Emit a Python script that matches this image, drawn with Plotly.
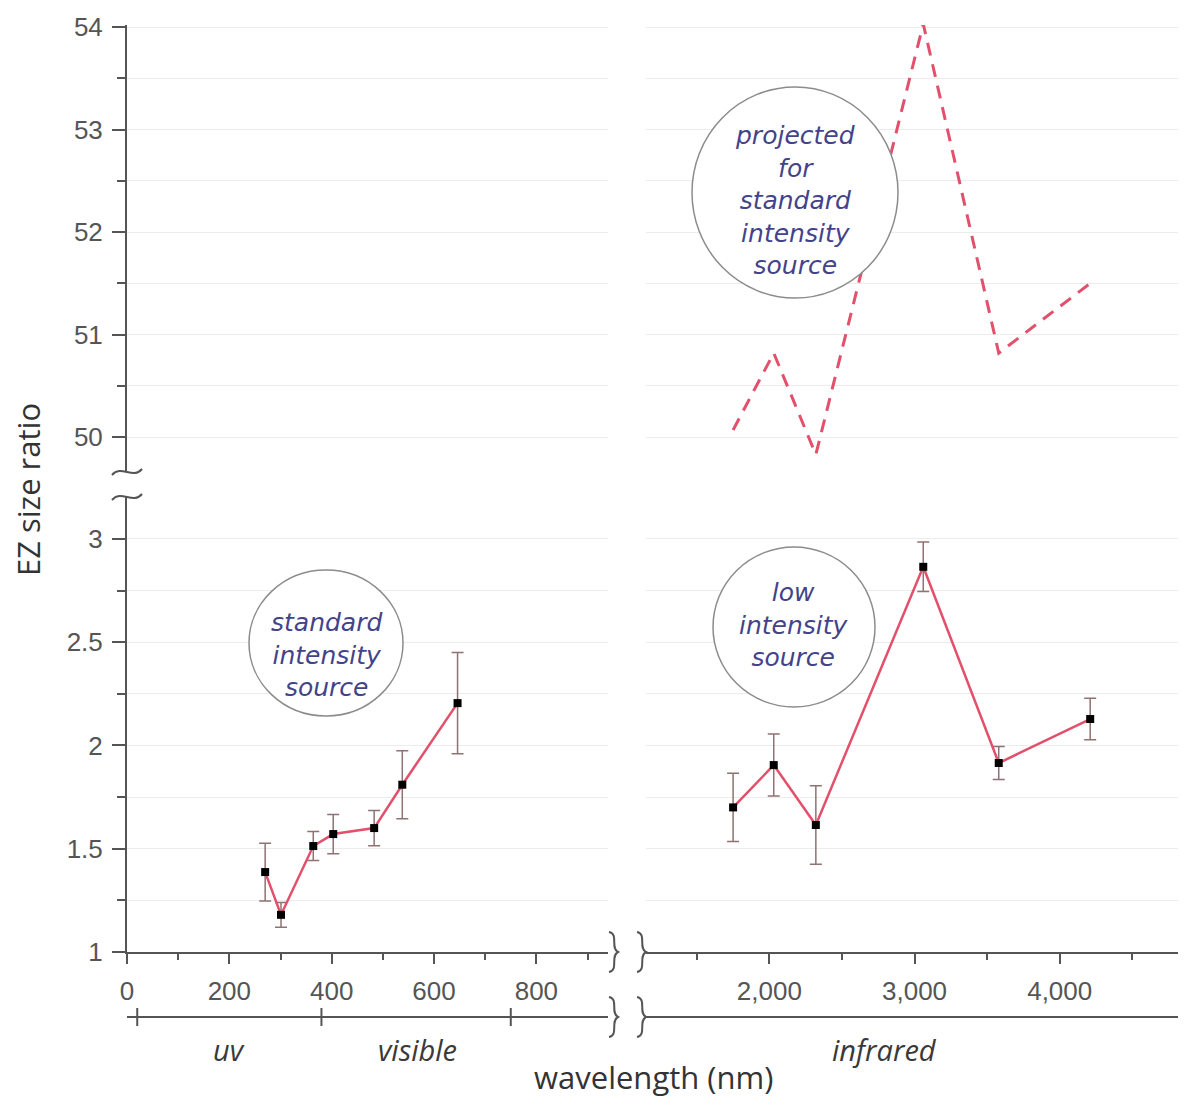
import plotly.graph_objects as go

# ---------------- data ----------------
uv_vis_wl = [270, 301, 364, 403, 483, 538, 646]
uv_vis_ratio = [1.387, 1.18, 1.513, 1.571, 1.60, 1.81, 2.205]
uv_vis_err = [0.14, 0.06, 0.07, 0.095, 0.085, 0.165, 0.245]

ir_wl = [1750, 2030, 2320, 3060, 3580, 4210]
ir_ratio = [1.70, 1.905, 1.615, 2.865, 1.915, 2.128]
ir_err = [0.165, 0.15, 0.19, 0.12, 0.08, 0.10]
ir_projected = [50.07, 50.82, 49.83, 54.03, 50.82, 51.50]

left_ticks = [0, 200, 400, 600, 800]
right_ticks = [2000, 3000, 4000]
lower_y_ticks = [1, 1.5, 2, 2.5, 3]
upper_y_ticks = [50, 51, 52, 53, 54]

band_edges = [20, 380, 750]
band_names = ["uv", "visible", "infrared"]
band_label_x = [200, 568, 2790]

note_std = ["standard", "intensity", "source"]
note_low = ["low", "intensity", "source"]
note_proj = ["projected", "for", "standard", "intensity", "source"]

# ---------------- layout geometry (page has an 8px body margin) ----------------
OFF = 8
FW, FH = 1178, 1092
X_LEFT, Y_TOP, Y_BASE = 127, 25, 952          # plot-area edges in screen pixels
L = X_LEFT - OFF
T = Y_TOP - OFF
B = FH - (Y_BASE - OFF)
R = 0
pw = FW - L - R
ph = FH - T - B


def px(x):
    return (x - X_LEFT) / pw


def py(y):
    return (Y_BASE - y) / ph


LINE = "#e2506c"
AX = "#555555"
GRID = "#ececec"
TXT = "#43438a"

fig = go.Figure()

# empty trace so the upper-left panel (and its grid) exists
fig.add_trace(go.Scatter(x=[], y=[], xaxis="x", yaxis="y2", showlegend=False, hoverinfo="skip"))

fig.add_trace(go.Scatter(
    x=uv_vis_wl, y=uv_vis_ratio, xaxis="x", yaxis="y", mode="lines+markers",
    line=dict(color=LINE, width=2.5),
    marker=dict(symbol="square", size=8, color="black"),
    error_y=dict(type="data", array=uv_vis_err, color="#8f7272", thickness=1.5, width=6),
    showlegend=False, cliponaxis=False))

fig.add_trace(go.Scatter(
    x=ir_wl, y=ir_ratio, xaxis="x2", yaxis="y", mode="lines+markers",
    line=dict(color=LINE, width=2.5),
    marker=dict(symbol="square", size=8, color="black"),
    error_y=dict(type="data", array=ir_err, color="#8f7272", thickness=1.5, width=6),
    showlegend=False, cliponaxis=False))

fig.add_trace(go.Scatter(
    x=ir_wl, y=ir_projected, xaxis="x2", yaxis="y2", mode="lines",
    line=dict(color=LINE, width=3, dash="13px,9px"),
    showlegend=False, cliponaxis=False))

tickfont = dict(family="Liberation Sans, Arial", size=26, color=AX)

common_x = dict(showgrid=False, zeroline=False, showline=True, linecolor=AX, linewidth=2,
                ticks="outside", ticklen=10, tickwidth=2, tickcolor=AX, tickfont=tickfont,
                automargin=False, ticklabelstandoff=5)
common_y = dict(zeroline=False, showline=True, linecolor=AX, linewidth=2,
                ticks="outside", ticklen=13, tickwidth=2, tickcolor=AX, tickfont=tickfont,
                showgrid=True, gridcolor=GRID, gridwidth=1, automargin=False,
                ticklabelstandoff=4)

fig.update_layout(
    width=FW, height=FH, paper_bgcolor="white", plot_bgcolor="white",
    margin=dict(l=L, r=R, t=T, b=B, pad=0),
    xaxis=dict(domain=[0, px(608)], range=[0, 940], anchor="y",
               tickvals=left_ticks, ticktext=[str(v) for v in left_ticks],
               minor=dict(dtick=100, tick0=0, ticks="outside", ticklen=6, tickwidth=2, tickcolor=AX),
               **common_x),
    xaxis2=dict(domain=[px(646), 1], range=[1150, 4870], anchor="y",
                tickvals=right_ticks, ticktext=[f"{v:,}" for v in right_ticks],
                minor=dict(dtick=500, tick0=0, ticks="outside", ticklen=6, tickwidth=2, tickcolor=AX),
                **common_x),
    yaxis=dict(domain=[0, py(497)], range=[1, 3.203], anchor="x",
               tickvals=lower_y_ticks, ticktext=[f"{v:g}" for v in lower_y_ticks],
               minor=dict(dtick=0.25, tick0=0, ticks="outside", ticklen=8, tickwidth=2, tickcolor=AX,
                          showgrid=True, gridcolor=GRID, gridwidth=1),
               **common_y),
    yaxis2=dict(domain=[py(472), 1], range=[49.66, 54.02], anchor="x",
                tickvals=upper_y_ticks, ticktext=[str(v) for v in upper_y_ticks],
                minor=dict(dtick=0.5, tick0=0, ticks="outside", ticklen=8, tickwidth=2, tickcolor=AX,
                           showgrid=True, gridcolor=GRID, gridwidth=1),
                **common_y),
)

shapes = []

# category band bar below the axis
bar_y = py(1017)
shapes.append(dict(type="line", xref="x", yref="paper", x0=0, x1=940, y0=bar_y, y1=bar_y,
                   line=dict(color=AX, width=2)))
shapes.append(dict(type="line", xref="x2", yref="paper", x0=1150, x1=4870, y0=bar_y, y1=bar_y,
                   line=dict(color=AX, width=2)))
for e in band_edges:
    shapes.append(dict(type="line", xref="x", yref="paper", x0=e, x1=e,
                       y0=py(1008), y1=py(1026), line=dict(color=AX, width=2)))


def pstr(x, y):
    return f"{px(x):.5f},{py(y):.5f}"


def brace(cx, cy, h=40):
    t, b = cy - h / 2, cy + h / 2
    return ("M " + pstr(cx - 4, t) + " C " + pstr(cx + 6, t + 2) + " " + pstr(cx - 3, cy - 4) + " "
            + pstr(cx + 5, cy) + " C " + pstr(cx - 3, cy + 4) + " " + pstr(cx + 6, b - 2) + " "
            + pstr(cx - 4, b))


def tilde(cx, cy, w=30):
    return ("M " + pstr(cx - w / 2, cy + 3) + " C " + pstr(cx - 6, cy - 8) + " "
            + pstr(cx + 6, cy + 8) + " " + pstr(cx + w / 2, cy - 3))


for cx in (613, 641):
    for cy in (952, 1017):
        shapes.append(dict(type="path", xref="paper", yref="paper", path=brace(cx, cy),
                           line=dict(color=AX, width=2), layer="above"))
for cy in (472, 497):
    shapes.append(dict(type="path", xref="paper", yref="paper", path=tilde(127, cy),
                       line=dict(color=AX, width=2), layer="above"))

# circles around notes
circles = [(249, 570, 403, 716), (713, 547, 875, 707), (692, 87, 898, 298)]
for x0, y0, x1, y1 in circles:
    shapes.append(dict(type="circle", xref="paper", yref="paper",
                       x0=px(x0), x1=px(x1), y0=py(y1), y1=py(y0),
                       fillcolor="white", line=dict(color="#8c8c8c", width=1.5), layer="above"))

fig.update_layout(shapes=shapes)

ann = []
note_font = dict(family="DejaVu Sans", size=25, color=TXT)


def add_note(lines, cx, cy):
    ann.append(dict(text="<i>" + "<br>".join(lines) + "</i>", xref="paper", yref="paper",
                    x=px(cx), y=py(cy), showarrow=False, xanchor="center", yanchor="middle",
                    align="center", font=note_font))


add_note(note_std, 326, 655)
add_note(note_low, 794, 625)
add_note(note_proj, 795, 200)

band_font = dict(family="Open Sans, Noto Sans", size=29, color="#3a3a3a")
for name, bx in zip(band_names, band_label_x):
    xr = "x2" if bx > 1000 else "x"
    ann.append(dict(text=f"<i>{name}</i>", xref=xr, yref="paper", x=bx, y=py(1049),
                    showarrow=False, xanchor="center", yanchor="middle", font=band_font))

ann.append(dict(text="wavelength (nm)", xref="paper", yref="paper", x=px(653), y=py(1099),
                showarrow=False, xanchor="center", yanchor="bottom", borderpad=0,
                font=dict(family="Open Sans, Noto Sans", size=31, color="#333333")))
ann.append(dict(text="EZ size ratio", xref="paper", yref="paper", x=px(28), y=py(490),
                showarrow=False, xanchor="center", yanchor="middle", textangle=-90,
                font=dict(family="Open Sans, Noto Sans", size=31, color="#333333")))

fig.update_layout(annotations=ann)

fig.write_html("out.html")
